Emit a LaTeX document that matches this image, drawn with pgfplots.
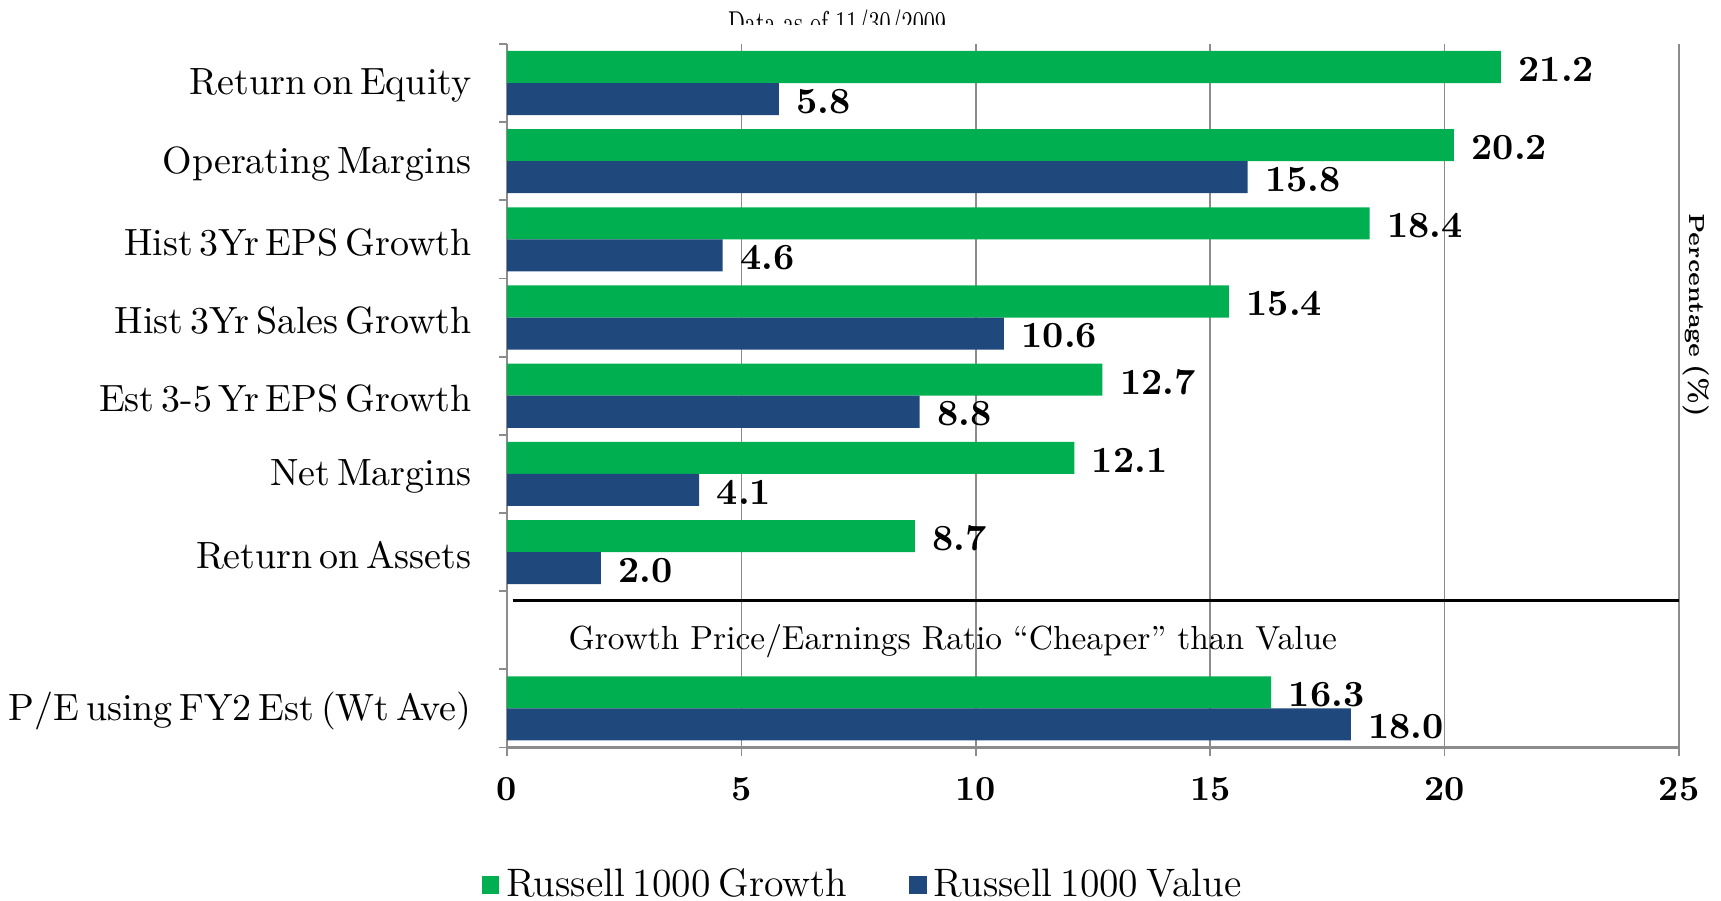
\documentclass[border=0pt]{standalone}
\usepackage{pgfplots}
\pgfplotsset{compat=1.18}
\usepackage{graphicx}
\definecolor{grgreen}{HTML}{00B050}
\definecolor{vblue}{HTML}{1F497D}
\definecolor{axgray}{HTML}{8C8C8C}
\newcommand\catfont{\fontsize{10.8}{12}\selectfont\spaceskip=0.18em\relax}
\newcommand\legfont{\fontsize{11.3}{13}\selectfont\spaceskip=0.2em\relax}

\begin{document}
\begin{tikzpicture}
\begin{axis}[
  at={(5.07cm,1.535cm)}, anchor=south west,
  scale only axis, width=11.72cm, height=7.036cm,
  xbar, bar width=0.41,
  xmin=0, xmax=25, ymin=-0.5, ymax=8.5,
  axis x line*=bottom, axis y line*=left,
  axis line style={axgray, line width=0.6pt},
  xtick={0,5,...,25}, xticklabels={0,5,10,15,20,25},
  xticklabel style={font=\fontsize{10}{12}\selectfont\bfseries, yshift=-2.6pt},
  xmajorgrids, major grid style={axgray, line width=0.5pt},
  tick align=outside, major tick length=0.08cm,
  tick style={axgray, line width=0.5pt},
  ytick={-0.5,0.5,...,8.5}, yticklabels={},
  extra y ticks={0,2,3,4,5,6,7,8},
  extra y tick labels={P/E using FY2 Est (Wt Ave),Return on Assets,Net Margins,Est 3-5 Yr EPS Growth,Hist 3Yr Sales Growth,Hist 3Yr EPS Growth,Operating Margins,Return on Equity},
  extra y tick style={major tick length=0pt, grid=none, yticklabel style={font=\catfont, xshift=-6.6pt, yshift=-0.8pt}},
  point meta=x,
  nodes near coords={\pgfmathprintnumber[fixed,fixed zerofill,precision=1,assume math mode=true]{\pgfplotspointmeta}},
  every node near coord/.append style={font=\fontsize{10.5}{12}\selectfont\bfseries, black, anchor=west, xshift=1.5pt, yshift=-0.6pt},
  legend image code/.code={\fill[#1] (0cm,-0.085cm) rectangle (0.175cm,0.09cm);},
  legend style={at={(0.3055,-0.196)}, anchor=center, draw=none, legend columns=2,
    font=\legfont,
    /tikz/every even column/.append style={column sep=0.55cm}},
]
\addplot[fill=grgreen, draw=none, bar shift=0.205] coordinates {(21.2,8) (20.2,7) (18.4,6) (15.4,5) (12.7,4) (12.1,3) (8.7,2) (16.3,0)};
\addplot[fill=vblue, draw=none, bar shift=-0.205] coordinates {(5.8,8) (15.8,7) (4.6,6) (10.6,5) (8.8,4) (4.1,3) (2.0,2) (18.0,0)};
\legend{Russell 1000 Growth, Russell 1000 Value}
\draw[black, line width=1pt] (axis cs:0.12,1.38) -- (axis cs:25,1.38);
\node[font=\fontsize{9.5}{11}\selectfont] at (axis cs:9.51,0.86) {Growth Price/Earnings Ratio “Cheaper” than Value};
\end{axis}
\node[rotate=-90, font=\fontsize{6.2}{8}\selectfont\bfseries] at (16.96,5.86) {Percentage\hspace{2pt}{\fontsize{7.5}{9}\selectfont(\%)}};
\begin{scope}
\clip (6,8.765) rectangle (11,9.01);
\node[anchor=north, inner sep=0pt, font=\fontsize{9}{11}\selectfont] at (8.37,8.915) {\scalebox{0.68}[1]{Data as of 11/30/2009}};
\end{scope}
\pgfresetboundingbox
\path[use as bounding box] (0,0) rectangle (17.21,9.01);
\end{tikzpicture}
\end{document}
